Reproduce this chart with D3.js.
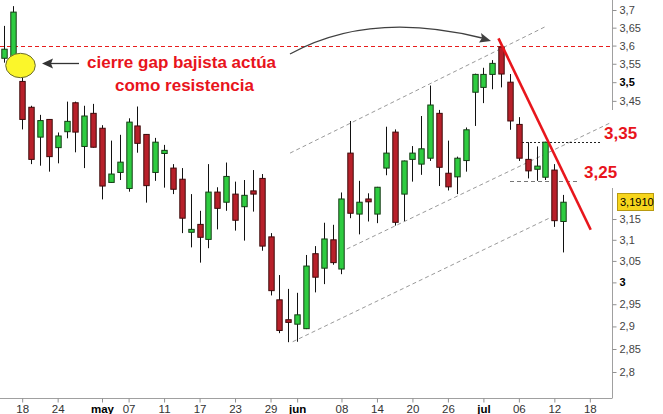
<!DOCTYPE html>
<html><head><meta charset="utf-8">
<script src="https://cdn.jsdelivr.net/npm/d3@7"></script>
<style>
html,body{margin:0;padding:0;background:#fff;}
svg{display:block;font-family:"Liberation Sans",Arial,sans-serif;}
</style></head>
<body>
<svg id="c" width="663" height="414"></svg>
<script>
// ---- data ----
const dates = ["16/04","17/04","18/04","19/04","20/04","23/04","24/04","25/04","26/04","27/04","30/04",
"02/05","03/05","04/05","07/05","08/05","09/05","10/05","11/05","14/05","15/05","16/05","17/05","18/05","21/05","22/05","23/05","24/05","25/05","28/05","29/05","30/05","31/05",
"01/06","04/06","05/06","06/06","07/06","08/06","11/06","12/06","13/06","14/06","15/06","18/06","19/06","20/06","21/06","22/06","25/06","26/06","27/06","28/06","29/06",
"02/07","03/07","04/07","05/07","06/07","09/07","10/07","11/07","12/07","13/07"];
const open  = [3.565,3.570,3.502,3.433,3.355,3.401,3.328,3.369,3.445,3.331,3.417,
3.378,3.240,3.265,3.225,3.384,3.362,3.265,3.313,3.276,3.248,3.118,3.137,3.101,3.216,3.191,3.211,3.180,3.219,3.250,3.107,2.960,2.915,
2.905,2.895,3.067,3.033,3.100,3.031,3.314,3.162,3.199,3.162,3.276,3.368,3.211,3.298,3.286,3.301,3.417,3.263,3.254,3.295,3.473,
3.486,3.521,3.596,3.500,3.388,3.298,3.273,3.253,3.271,3.144];
const high  = [3.655,3.711,3.520,3.437,3.413,3.402,3.367,3.448,3.448,3.437,3.442,
3.386,3.346,3.361,3.404,3.435,3.363,3.353,3.335,3.286,3.276,3.211,3.170,3.286,3.228,3.290,3.242,3.246,3.271,3.261,3.116,3.017,2.985,
2.976,3.064,3.085,3.141,3.136,3.215,3.397,3.244,3.213,3.229,3.382,3.375,3.295,3.332,3.410,3.491,3.426,3.346,3.305,3.380,3.523,
3.539,3.560,3.600,3.522,3.407,3.342,3.331,3.343,3.286,3.209];
const low   = [3.553,3.560,3.375,3.286,3.282,3.267,3.288,3.352,3.316,3.276,3.328,
3.198,3.239,3.246,3.217,3.315,3.190,3.244,3.227,3.211,3.116,3.082,3.046,3.080,3.125,3.170,3.122,3.098,3.168,3.074,2.970,2.885,2.865,
2.866,2.894,2.977,2.996,3.041,3.019,3.152,3.113,3.144,3.140,3.258,3.134,3.145,3.242,3.259,3.294,3.231,3.220,3.211,3.267,3.384,
3.444,3.481,3.486,3.374,3.294,3.250,3.244,3.246,3.131,3.070];
const close = [3.590,3.694,3.401,3.298,3.398,3.305,3.358,3.396,3.368,3.410,3.329,
3.231,3.261,3.291,3.394,3.339,3.232,3.342,3.321,3.223,3.152,3.125,3.106,3.216,3.176,3.255,3.147,3.208,3.211,3.085,2.981,2.891,2.909,
2.926,3.038,3.012,3.102,3.046,3.199,3.164,3.191,3.192,3.228,3.314,3.142,3.294,3.314,3.325,3.439,3.278,3.229,3.301,3.374,3.521,
3.521,3.551,3.522,3.397,3.301,3.269,3.281,3.342,3.146,3.191];

// tick labels shown on the price axis (3,2 - 3,4 are hidden behind the annotations)
const yTicks = [2.8,2.85,2.9,2.95,3,3.05,3.1,3.15,3.45,3.5,3.55,3.6,3.65,3.7];
const boldTicks = [3,3.5];
const xTickIdx = [2,6,11,14,18,22,26,30,33,38,42,46,50,54,58,62,66];
const xTickLabels = ["18","24","may","07","11","17","23","29","jun","08","14","20","26","jul","06","12","18"];
const boldX = ["may","jun","jul"];
const lastPrice = 3.191;

// annotation geometry in data units [index, price]
const channelUpper = [[32.2,3.314],[61.16,3.655]];
const channelMid   = [[38.6,3.078],[68.3,3.392]];
const channelLow   = [[32.5,2.866],[61.7,3.155]];
const trendLine    = [[55.7,3.620],[66.1,3.124]];
const gapLevel = 3.6, gapSegs = [[-0.5,56.2],[58.4,68.5]];
const res1 = {level:3.342, from:58.4, label:"3,35"};
const res2 = {level:3.243, from:57.0, to:64.9, label:"3,25"};

// ---- scales ----
const svg = d3.select("#c");
const axisX = 612, axisY = 398;
const x = d3.scaleLinear().domain([-0.5,68.5]).range([0,axisX]);
const y = d3.scaleLog().domain([2.8,3.7]).range([372,10]);
const fmt = v => String(+v.toFixed(4)).replace(".",",");
const ry = v => Math.round(y(v))+0.5;

// ---- annotation lines behind candles ----
const line = d3.line().x(d=>x(d[0])).y(d=>y(d[1]));
[channelUpper,channelMid,channelLow].forEach(c=>{
  svg.append("path").attr("d",line(c)).attr("fill","none")
    .attr("stroke","#9a9a9a").attr("stroke-width",1).attr("stroke-dasharray","4,3");
});
gapSegs.forEach(s=>{
  svg.append("line").attr("x1",x(s[0])).attr("x2",Math.min(x(s[1]),axisX)).attr("y1",ry(gapLevel)).attr("y2",ry(gapLevel))
    .attr("stroke","#e81c1c").attr("stroke-width",1).attr("stroke-dasharray","4,3").attr("shape-rendering","crispEdges");
});
svg.append("line").attr("x1",x(res1.from)).attr("x2",601).attr("y1",ry(res1.level)).attr("y2",ry(res1.level))
  .attr("stroke","#222").attr("stroke-width",1).attr("stroke-dasharray","2,2").attr("shape-rendering","crispEdges");
svg.append("line").attr("x1",x(res2.from)).attr("x2",x(res2.to)).attr("y1",ry(res2.level)).attr("y2",ry(res2.level))
  .attr("stroke","#777").attr("stroke-width",1).attr("stroke-dasharray","4,3").attr("shape-rendering","crispEdges");

// ---- candles ----
const data = dates.map((d,i)=>({i,o:open[i],h:high[i],l:low[i],c:close[i]}));
const bw = 5.4;
const g = svg.append("g");
g.selectAll("line.w").data(data).join("line").attr("class","w")
  .attr("x1",d=>Math.round(x(d.i))+0.5).attr("x2",d=>Math.round(x(d.i))+0.5)
  .attr("y1",d=>y(d.h)).attr("y2",d=>y(d.l)).attr("stroke","#111").attr("stroke-width",1);
g.selectAll("rect.b").data(data).join("rect").attr("class","b")
  .attr("x",d=>Math.round(x(d.i))+0.5-bw/2).attr("width",bw)
  .attr("y",d=>y(Math.max(d.o,d.c)))
  .attr("height",d=>Math.max(1,Math.abs(y(d.o)-y(d.c))))
  .attr("fill",d=>d.c>=d.o?"#2ecc40":"#b8202a")
  .attr("stroke",d=>d.c>=d.o?"#143d14":"#3d0a0a").attr("stroke-width",1);

// red trend line
svg.append("path").attr("d",line(trendLine)).attr("stroke","#e8161c").attr("stroke-width",2.6).attr("fill","none");

// ---- axes ----
[[0,110],[188,axisY]].forEach(s=>{
  svg.append("line").attr("x1",axisX+0.5).attr("x2",axisX+0.5).attr("y1",s[0]).attr("y2",s[1]).attr("stroke","#a0a0a0");
});
svg.append("line").attr("x1",0).attr("x2",axisX+0.5).attr("y1",axisY+0.5).attr("y2",axisY+0.5).attr("stroke","#a0a0a0");

const ya = svg.append("g").attr("transform",`translate(${axisX+0.5},0)`)
  .call(d3.axisRight(y).tickValues(yTicks).tickSize(4).tickSizeOuter(0).tickPadding(3).tickFormat(fmt));
ya.select(".domain").remove();
ya.selectAll(".tick line").attr("stroke","#909090");
ya.selectAll(".tick text").attr("font-size",11)
  .attr("font-family","'Liberation Sans',Arial,sans-serif")
  .attr("font-weight",d=>boldTicks.includes(d)?"bold":"normal")
  .attr("fill",d=>boldTicks.includes(d)?"#000":"#444");

const xa = svg.append("g").attr("transform",`translate(0,${axisY+0.5})`)
  .call(d3.axisBottom(x).tickValues(xTickIdx).tickSize(4).tickSizeOuter(0).tickPadding(2).tickFormat((d,i)=>xTickLabels[i]));
xa.select(".domain").remove();
xa.selectAll(".tick line").attr("stroke","#909090");
xa.selectAll(".tick text").attr("font-size",11.5)
  .attr("font-family","'Liberation Sans Narrow','Arial Narrow','Liberation Sans',sans-serif")
  .attr("font-weight",(d,i)=>boldX.includes(xTickLabels[i])?"bold":"normal")
  .attr("fill",(d,i)=>boldX.includes(xTickLabels[i])?"#000":"#333");

// resistance labels
svg.append("text").attr("x",604).attr("y",y(res1.level)-3).text(res1.label)
  .attr("font-size",17).attr("font-weight","bold").attr("fill","#e8141c");
svg.append("text").attr("x",584).attr("y",y(res2.level)-3).text(res2.label)
  .attr("font-size",17).attr("font-weight","bold").attr("fill","#e8141c");

// last price tag
const py = y(lastPrice);
svg.append("rect").attr("x",617.5).attr("y",Math.round(py)-8.5).attr("width",36).attr("height",17)
  .attr("fill","#f7d51c").attr("stroke","#b89a10");
svg.append("text").attr("x",620).attr("y",Math.round(py)+4).text("3,1910").attr("font-size",11).attr("fill","#000");

// ---- gap annotation ----
svg.append("ellipse").attr("cx",20.5).attr("cy",65.5).attr("rx",14.8).attr("ry",12.2)
  .attr("fill","#fbf62a").attr("stroke","#6a6a30").attr("stroke-width",1);
svg.append("line").attr("x1",79).attr("x2",50).attr("y1",63.5).attr("y2",63.5).attr("stroke","#333").attr("stroke-width",1.3);
svg.append("path").attr("d","M42,63.5 L53,58.5 L51,63.5 L53,68.5 Z").attr("fill","#333");

svg.append("text").attr("x",87).attr("y",68).text("cierre gap bajista actúa")
  .attr("font-size",17).attr("font-weight","bold").attr("fill","#e8141c");
svg.append("text").attr("x",115).attr("y",91).text("como resistencia")
  .attr("font-size",17).attr("font-weight","bold").attr("fill","#e8141c");

// curved arrow
svg.append("path").attr("d","M290,54 Q370,10 482,38").attr("fill","none").attr("stroke","#404040").attr("stroke-width",1.3);
svg.append("path").attr("d","M491,41 L479,42.5 L482,38 L481,33 Z").attr("fill","#404040");
</script>
</body></html>
